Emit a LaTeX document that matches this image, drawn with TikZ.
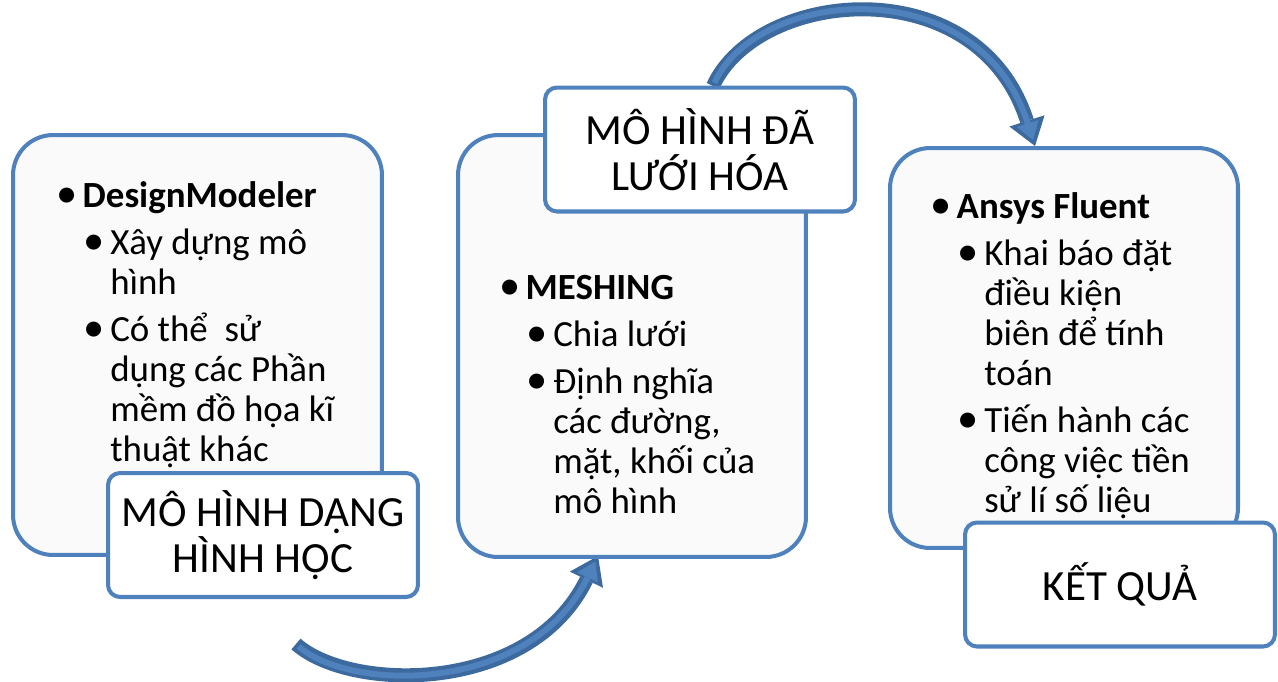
\documentclass[tikz,border=0pt]{standalone}
\usepackage{fontspec}
\setmainfont{Carlito}
\usetikzlibrary{arrows.meta}
\definecolor{boxblue}{HTML}{4F81BD}
\definecolor{arrowdark}{HTML}{3C6A9E}
\newcommand{\bulone}{\makebox[15pt][l]{\scalebox{1.15}{\textbullet}}}
\newcommand{\bultwo}{\hspace*{15.4pt}\makebox[15.3pt][l]{\scalebox{1.15}{\textbullet}}}
\newcommand{\contwo}{\hspace*{30.7pt}}

\begin{document}
\begin{tikzpicture}[x=0.02cm, y=-0.02cm]
\tikzstyle{bigbox} = [rectangle, rounded corners=0.8cm, minimum width=6.96cm, draw=boxblue, line width=2.3pt, fill=white!98!black]
\tikzstyle{labelbox} = [rectangle, rounded corners=0.24cm, minimum width=6.2cm, minimum height=2.48cm, draw=boxblue, line width=2.3pt, fill=white, align=center, font=\fontsize{24.5}{26.2}\selectfont]
\tikzstyle{bullettext} = [anchor=north west, inner sep=0pt, align=left, font=\fontsize{21}{22.8}\selectfont]
\tikzstyle{flowdark} = [draw=arrowdark, line width=8pt, -{Triangle[width=21pt, length=15pt, line width=0pt]}]
\tikzstyle{flowlight} = [draw=boxblue, line width=3.4pt, shorten <=2pt, shorten >=3.5pt, -{Triangle[width=13pt, length=10pt, line width=0pt]}]

\useasboundingbox (0,0) rectangle (1278,681);

\coordinate (arc1start) at (296,644);
\coordinate (arc1end) at (598,556);
\coordinate (arc2start) at (713,86);
\coordinate (arc2end) at (1035,146);

\draw[flowdark] (arc1start) .. controls (350,692) and (530,695) .. (arc1end);
\draw[flowlight] (arc1start) .. controls (350,692) and (530,695) .. (arc1end);
\draw[flowdark] (arc2start) .. controls (758,-12) and (978,-32) .. (arc2end);
\draw[flowlight] (arc2start) .. controls (758,-12) and (978,-32) .. (arc2end);

\node (geom) [bigbox, minimum width=7.38cm, minimum height=8.4cm] at (197.5,345) {};
\node (geomtext) [bullettext, xshift=0.9cm, yshift=-0.96cm] at (geom.north west)
  {\bulone\textbf{DesignModeler}\\[4pt]
   \bultwo Xây dựng mô\\
   \contwo hình\\[4pt]
   \bultwo Có thể~ sử\\
   \contwo dụng các Phần\\
   \contwo mềm đồ họa kĩ\\
   \contwo thuật khác};
\node (geomlabel) [labelbox] at (263,535) {MÔ HÌNH DẠNG\\HÌNH HỌC};

\node (mesh) [bigbox, minimum height=8.44cm] at (632,346) {};
\node (meshtext) [bullettext, xshift=0.86cm, yshift=-2.84cm] at (mesh.north west)
  {\bulone\textbf{MESHING}\\[4pt]
   \bultwo Chia lưới\\[4pt]
   \bultwo Định nghĩa\\
   \contwo các đường,\\
   \contwo mặt, khối của\\
   \contwo mô hình};
\node (meshlabel) [labelbox] at (700,149.5) {MÔ HÌNH ĐÃ\\LƯỚI HÓA};

\node (fluent) [bigbox, minimum height=8cm] at (1064,348) {};
\node (fluenttext) [bullettext, xshift=0.84cm, yshift=-0.92cm] at (fluent.north west)
  {\bulone\textbf{Ansys Fluent}\\[4pt]
   \bultwo Khai báo đặt\\
   \contwo điều kiện\\
   \contwo biên để tính\\
   \contwo toán\\[4pt]
   \bultwo Tiến hành các\\
   \contwo công việc tiền\\
   \contwo sử lí số liệu};
\node (result) [labelbox] at (1120,584.5) {KẾT QUẢ};

\end{tikzpicture}
\end{document}
